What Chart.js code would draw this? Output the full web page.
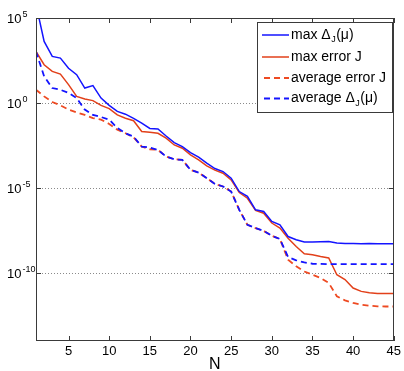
<!DOCTYPE html>
<html><head><meta charset="utf-8">
<script src="https://cdn.jsdelivr.net/npm/chart.js@4.4.0/dist/chart.umd.min.js"></script>
<style>html,body{margin:0;padding:0;background:#fff;}#wrap{width:404px;height:371px;}</style>
</head><body><div id="wrap"><canvas id="c" width="404" height="371"></canvas></div>
<script>
const N = [1,2,3,4,5,6,7,8,9,10,11,12,13,14,15,16,17,18,19,20,21,22,23,24,25,26,27,28,29,30,31,32,33,34,35,36,37,38,39,40,41,42,43,44,45];
const maxDelta = [6.3e5,4.2e3,5.5e2,4.4e2,1.1e2,46,7.6,10.5,1.95,0.72,0.32,0.22,0.126,0.065,0.032,0.030,0.0115,4.7e-3,2.75e-3,1.2e-3,6.5e-4,2.9e-4,1.4e-4,9.3e-5,3.8e-5,6.2e-6,3.2e-6,5.2e-7,4.2e-7,1.07e-7,6.9e-8,1.4e-8,9.1e-9,6.6e-9,6.6e-9,6.9e-9,7.2e-9,5.8e-9,5.4e-9,5.4e-9,5.2e-9,5.4e-9,5.2e-9,5.2e-9,5.2e-9];
const maxErrorJ = [1.07e3,178,72,50,12,2.45,1.7,1.38,0.72,0.47,0.20,0.126,0.091,0.021,0.019,0.0166,8.5e-3,3.4e-3,2.2e-3,8.9e-4,4.5e-4,2.0e-4,1.12e-4,7.4e-5,3.0e-5,5.4e-6,2.5e-6,4.8e-7,3.3e-7,8.7e-8,4.4e-8,1.12e-8,3.6e-9,1.35e-9,1.17e-9,9.3e-10,7.6e-10,7.9e-11,4.1e-11,1.3e-11,8.3e-12,6.8e-12,6.3e-12,6.3e-12,6.3e-12];
const avgErrorJ = [6.0,2.45,1.15,0.72,0.41,0.28,0.20,0.13,0.105,0.059,0.027,0.0166,9.5e-3,2.75e-3,1.9e-3,1.74e-3,7.1e-4,4.9e-4,4.5e-4,1.17e-4,8.1e-5,3.8e-5,1.74e-5,1.23e-5,6.2e-6,5.2e-7,6.9e-8,4.4e-8,3.0e-8,1.55e-8,1.0e-8,6.0e-10,2.5e-10,1.23e-10,7.9e-11,5.1e-11,2.6e-11,4.3e-12,2.45e-12,1.74e-12,1.38e-12,1.2e-12,1.1e-12,1.07e-12,1.07e-12];
const avgDelta = [1.07e3,37,7.6,6.0,3.9,1.95,0.41,0.20,0.15,0.105,0.034,0.0166,0.0105,2.75e-3,2.4e-3,1.74e-3,7.1e-4,4.9e-4,4.5e-4,1.17e-4,8.1e-5,3.8e-5,1.74e-5,1.23e-5,6.2e-6,5.2e-7,6.9e-8,4.4e-8,3.0e-8,1.55e-8,1.0e-8,8.7e-10,5.6e-10,4.2e-10,3.5e-10,3.4e-10,3.3e-10,3.3e-10,3.3e-10,3.3e-10,3.3e-10,3.3e-10,3.3e-10,3.3e-10,3.3e-10];
const xTicks = [5,10,15,20,25,30,35,40,45];
const yTicks = [1e-10,1e-5,1,1e5];
const yTickExps = ['-10','-5','0','5'];
const seriesLabels = ['max Δ_J(μ)','max error J','average error J','average Δ_J(μ)'];

const BLUE = '#1414ff', RED = '#e2401a', RED2 = '#ee4a22';
const FONT = 'Liberation Sans, Arial, sans-serif';

function pts(arr){ return N.map((n,i)=>({x:n,y:arr[i]})); }

const framePlugin = {
  id:'frame',
  afterDraw(chart){
    const ctx = chart.ctx, ca = chart.chartArea;
    const xs = chart.scales.x, ys = chart.scales.y;
    ctx.save();
    ctx.strokeStyle = '#3a3a3a'; ctx.lineWidth = 1;
    ctx.strokeRect(Math.round(ca.left)+0.5, Math.round(ca.top)+0.5, Math.round(ca.right-ca.left)-1, Math.round(ca.bottom-ca.top)-1);
    ctx.beginPath();
    xTicks.forEach(v=>{
      const px = Math.round(xs.getPixelForValue(v))+0.5;
      ctx.moveTo(px, ca.bottom); ctx.lineTo(px, ca.bottom-5);
      ctx.moveTo(px, ca.top); ctx.lineTo(px, ca.top+5);
    });
    yTicks.forEach(v=>{
      const py = Math.round(ys.getPixelForValue(v))+0.5;
      ctx.moveTo(ca.left, py); ctx.lineTo(ca.left+5, py);
      ctx.moveTo(ca.right, py); ctx.lineTo(ca.right-5, py);
    });
    ctx.stroke();
    // y tick labels with superscript
    ctx.fillStyle = '#000';
    yTicks.forEach((v,i)=>{
      const py = ys.getPixelForValue(v);
      ctx.font = '13px ' + FONT;
      ctx.textAlign = 'left'; ctx.textBaseline = 'alphabetic';
      ctx.fillText('10', 7, py+5);
      ctx.font = '9px ' + FONT;
      ctx.fillText(yTickExps[i], 22.5, py-1);
    });
    // legend
    const lx = 257, ly = 22, lw = 135, lh = 90;
    ctx.fillStyle = '#fff';
    ctx.fillRect(lx, ly, lw, lh);
    ctx.strokeStyle = '#3a3a3a';
    ctx.strokeRect(lx+0.5, ly+0.5, lw, lh);
    const rows = [35, 57, 78, 98.5];
    chart.data.datasets.forEach((ds, i)=>{
      const y = rows[i];
      ctx.save();
      ctx.strokeStyle = ds.borderColor; ctx.lineWidth = ds.borderWidth;
      ctx.setLineDash(ds.borderDash || []);
      ctx.beginPath();
      const x0 = (ds.borderDash && ds.borderDash.length) ? 264 : 262;
      ctx.moveTo(x0, y); ctx.lineTo(289, y); ctx.stroke();
      ctx.restore();
      ctx.fillStyle = '#000';
      ctx.textAlign = 'left'; ctx.textBaseline = 'middle';
      const parts = ds.label.split('_');
      let x = 291;
      ctx.font = '14px ' + FONT;
      ctx.fillText(parts[0], x, y);
      x += ctx.measureText(parts[0]).width;
      if (parts.length > 1) {
        const sub = parts[1].charAt(0), rest = parts[1].slice(1);
        ctx.font = '9px ' + FONT;
        ctx.fillText(sub, x+0.5, y+5);
        x += ctx.measureText(sub).width + 1;
        ctx.font = '14px ' + FONT;
        ctx.fillText(rest, x, y);
      }
    });
    ctx.restore();
  }
};

new Chart(document.getElementById('c'), {
  type:'line',
  data:{ datasets:[
    {label:seriesLabels[0], data:pts(maxDelta), borderColor:BLUE, borderWidth:1.5, order:1},
    {label:seriesLabels[1], data:pts(maxErrorJ), borderColor:RED, borderWidth:1.5, order:2},
    {label:seriesLabels[2], data:pts(avgErrorJ), borderColor:RED2, borderWidth:1.8, borderDash:[6,4], order:3},
    {label:seriesLabels[3], data:pts(avgDelta), borderColor:BLUE, borderWidth:1.8, borderDash:[6,4], order:0}
  ]},
  options:{
    responsive:false, animation:false, devicePixelRatio:1,
    layout:{padding:{left:0, top:18, right:7, bottom:0}},
    elements:{point:{radius:0}, line:{tension:0, fill:false}},
    plugins:{legend:{display:false}, tooltip:{enabled:false}},
    scales:{
      x:{type:'linear', min:1, max:45,
        afterBuildTicks:s=>{s.ticks = xTicks.map(v=>({value:v}));},
        afterFit:s=>{s.height = 30;},
        grid:{display:false, drawTicks:false, tickLength:0},
        border:{display:false},
        ticks:{color:'#000', font:{family:FONT, size:13}, padding:3, maxRotation:0, autoSkip:false},
        title:{display:true, text:'N', color:'#000', font:{family:FONT, size:16, lineHeight:1}, padding:{top:0, bottom:-2}}
      },
      y:{type:'logarithmic', min:1e-14, max:1e5,
        afterBuildTicks:s=>{s.ticks = yTicks.map(v=>({value:v}));},
        afterFit:s=>{s.width = 36;},
        grid:{color:'#8a8a8a', lineWidth:1, drawTicks:false, tickLength:0},
        border:{display:false, dash:[1,2]},
        ticks:{display:false}
      }
    }
  },
  plugins:[framePlugin]
});
</script>
</body></html>
